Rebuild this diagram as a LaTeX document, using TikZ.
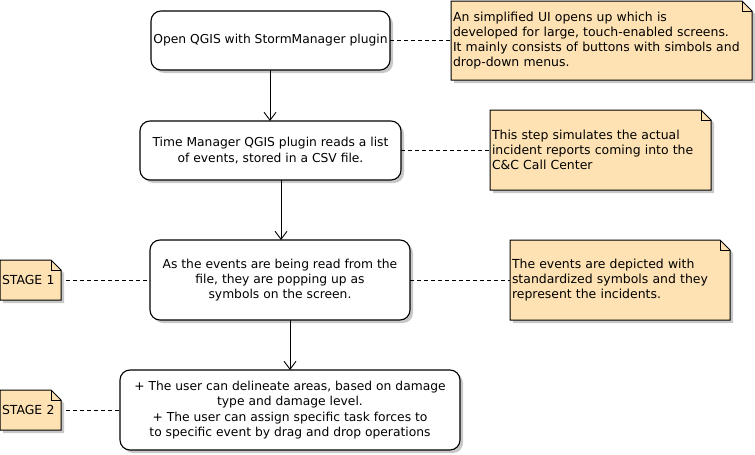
\documentclass[tikz,border=0pt]{standalone}
\usepackage{fontspec}
\setmainfont{DejaVu Sans}
\usetikzlibrary{arrows.meta}
\pgfdeclarelayer{background}
\pgfsetlayers{background,main}
\definecolor{notefill}{HTML}{FEE2B3}
\definecolor{shadowgray}{HTML}{C8C8C8}
\tikzset{
  x=1pt, y=-1pt,
  every node/.style={inner sep=0pt, outer sep=0pt},
  actbox/.style={draw, line width=1.1pt, rounded corners=10pt, fill=white, align=center, font=\fontsize{12.3}{15.3}\selectfont},
  notebox/.style={align=left, anchor=north west, inner xsep=2pt, font=\fontsize{12.45}{15}\selectfont},
  connect/.style={line width=0.9pt, -{Straight Barb[length=8pt,width=12pt]}},
  noteline/.style={line width=0.9pt, dash pattern=on 4pt off 3pt},
}
\newcommand\notefolded[1]{%
  \begin{pgfonlayer}{background}
    \fill[shadowgray] ([xshift=3pt,yshift=-3pt]#1.north west) -- ([xshift=-7pt,yshift=-3pt]#1.north east) -- ([xshift=3pt,yshift=-13pt]#1.north east) -- ([xshift=3pt,yshift=-3pt]#1.south east) -- ([xshift=3pt,yshift=-3pt]#1.south west) -- cycle;
    \draw[line width=1pt, fill=notefill] (#1.north west) -- ([xshift=-10pt]#1.north east) -- ([yshift=-10pt]#1.north east) -- (#1.south east) -- (#1.south west) -- cycle;
    \draw[line width=0.8pt] ([xshift=-10pt]#1.north east) -- ([xshift=-10pt,yshift=-10pt]#1.north east) -- ([yshift=-10pt]#1.north east);
  \end{pgfonlayer}}
\newcommand\boxshadow[1]{%
  \begin{pgfonlayer}{background}
    \fill[shadowgray, rounded corners=10pt] ([xshift=3pt,yshift=-3pt]#1.north west) rectangle ([xshift=3pt,yshift=-3pt]#1.south east);
  \end{pgfonlayer}}
\begin{document}
\begin{tikzpicture}
\useasboundingbox (0,0) rectangle (755,455);

% activity boxes
\node[actbox, minimum width=239pt, minimum height=59pt] (a) at (270.5,40.5) {Open QGIS with StormManager plugin};
\node[actbox, minimum width=261pt, minimum height=59pt] (b) at (270.5,150.5) {Time Manager QGIS plugin reads a list\\of events, stored in a CSV file.};
\node[actbox, minimum width=260pt, minimum height=80pt] (c) at (280,280) {As the events are being read from the\\file, they are popping up as\\symbols on the screen.};
\node[actbox, minimum width=340pt, minimum height=80pt] (d) at (290,410) {+ The user can delineate areas, based on damage\\type and damage level.\\+ The user can assign specific task forces to\\to specific event by drag and drop operations};
\boxshadow{a}\boxshadow{b}\boxshadow{c}\boxshadow{d}

% notes
\node[notebox, minimum width=301pt, minimum height=79pt, text width=297pt] (n1) at (451,1) {An simplified UI opens up which is\\developed for large, touch-enabled screens.\\It mainly consists of buttons with simbols and\\drop-down menus.};
\node[notebox, minimum width=221pt, minimum height=80pt, text width=217pt] (n2) at (490,110) {This step simulates the actual\\incident reports coming into the\\C\&C Call Center};
\node[notebox, minimum width=220pt, minimum height=80pt, text width=216pt] (n3) at (510,240) {The events are depicted with\\standardized symbols and they\\represent the incidents.};
\node[notebox, minimum width=61pt, minimum height=40pt, text width=57pt] (s1) at (0,260) {STAGE 1};
\node[notebox, minimum width=61pt, minimum height=40pt, text width=57pt] (s2) at (0,390) {STAGE 2};
\notefolded{n1}\notefolded{n2}\notefolded{n3}\notefolded{s1}\notefolded{s2}

% connector columns
\coordinate (xab) at (270,0);
\coordinate (xbc) at (281,0);
\coordinate (xcd) at (290,0);

% connectors
\draw[connect] (a.south -| xab) -- (b.north -| xab);
\draw[connect] (b.south -| xbc) -- (c.north -| xbc);
\draw[connect] (c.south -| xcd) -- (d.north -| xcd);

\draw[noteline] (a.east) -- (a.east -| n1.west);
\draw[noteline] (b.east) -- (b.east -| n2.west);
\draw[noteline] (c.east) -- (c.east -| n3.west);
\draw[noteline] ([xshift=5pt]s1.east) -- (s1.east -| c.west);
\draw[noteline] ([xshift=5pt]s2.east) -- (s2.east -| d.west);
\end{tikzpicture}
\end{document}
